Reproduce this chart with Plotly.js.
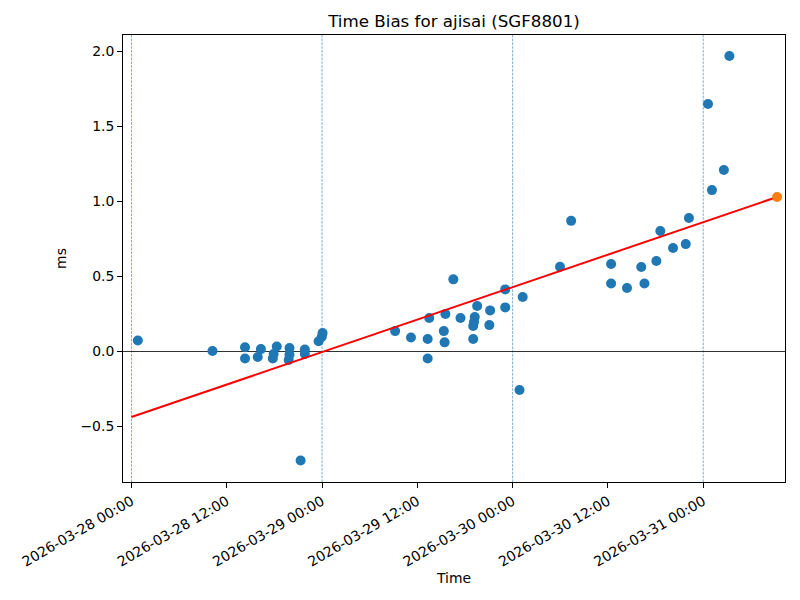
<!DOCTYPE html>
<html>
<head>
<meta charset="utf-8">
<script src="https://cdn.plot.ly/plotly-3.0.1.min.js"></script>
<style>html,body{margin:0;padding:0;background:#fff;}#chart{width:800px;height:600px;}</style>
</head>
<body>
<div id="chart"></div>
<script>
// Observed time-bias samples
const times = [
  "2026-03-28 00:48", "2026-03-28 10:12",
  "2026-03-28 14:18", "2026-03-28 14:18",
  "2026-03-28 16:18", "2026-03-28 15:54",
  "2026-03-28 18:18", "2026-03-28 17:54", "2026-03-28 17:48",
  "2026-03-28 19:54", "2026-03-28 19:54", "2026-03-28 19:48",
  "2026-03-28 21:18",
  "2026-03-28 21:50", "2026-03-28 21:50",
  "2026-03-28 23:34", "2026-03-28 23:58", "2026-03-29 00:04",
  "2026-03-29 09:12", "2026-03-29 11:12",
  "2026-03-29 13:18", "2026-03-29 13:18", "2026-03-29 13:30",
  "2026-03-29 15:20", "2026-03-29 15:26", "2026-03-29 15:32",
  "2026-03-29 16:32", "2026-03-29 17:26",
  "2026-03-29 19:14", "2026-03-29 19:08", "2026-03-29 19:02", "2026-03-29 19:02",
  "2026-03-29 19:32",
  "2026-03-29 21:04", "2026-03-29 21:10",
  "2026-03-29 23:04", "2026-03-29 23:04",
  "2026-03-30 00:52", "2026-03-30 01:16",
  "2026-03-30 05:58", "2026-03-30 07:22",
  "2026-03-30 12:24", "2026-03-30 12:24",
  "2026-03-30 14:24", "2026-03-30 16:12", "2026-03-30 16:36",
  "2026-03-30 18:06", "2026-03-30 18:36",
  "2026-03-30 20:12", "2026-03-30 21:48", "2026-03-30 22:12",
  "2026-03-31 00:36", "2026-03-31 01:06", "2026-03-31 02:36", "2026-03-31 03:18"
];
const biasMs = [
  0.07, 0.0,
  0.025, -0.05,
  0.013, -0.04,
  0.03, -0.02, -0.05,
  0.02, -0.025, -0.06,
  -0.73,
  0.01, -0.02,
  0.065, 0.095, 0.12,
  0.133, 0.09,
  0.08, -0.05, 0.22,
  0.133, 0.058, 0.247,
  0.478, 0.22,
  0.227, 0.193, 0.167, 0.08,
  0.30,
  0.173, 0.271,
  0.291, 0.411,
  -0.26, 0.36,
  0.562, 0.868,
  0.58, 0.45,
  0.42, 0.56, 0.45,
  0.60, 0.80,
  0.687, 0.713, 0.887,
  1.647, 1.073, 1.207, 1.967
];
// Linear fit (endpoints) and predicted point
const fitTimes = ["2026-03-28 00:00", "2026-03-31 09:18"];
const fitValues = [-0.44, 1.027];
const predTime = ["2026-03-31 09:18"];
const predValue = [1.027];
// Day boundaries (dashed guides)
const dayLines = ["2026-03-28 00:00", "2026-03-29 00:00", "2026-03-30 00:00", "2026-03-31 00:00"];
const yTicks = [-0.5, 0.0, 0.5, 1.0, 1.5, 2.0];
const xRange = ["2026-03-27 22:56", "2026-03-31 10:18"];
const yRange = [-0.873, 2.107];

const font = "DejaVu Sans";
const traces = [
  {x: times, y: biasMs, type: "scatter", mode: "markers",
   marker: {color: "#1f77b4", size: 10}, hoverinfo: "skip"},
  {x: fitTimes, y: fitValues, type: "scatter", mode: "lines",
   line: {color: "red", width: 2}, hoverinfo: "skip"},
  {x: predTime, y: predValue, type: "scatter", mode: "markers",
   marker: {color: "#ff7f0e", size: 10}, hoverinfo: "skip"}
];
const shapes = dayLines.map(d => ({
  type: "line", xref: "x", yref: "paper", x0: d, x1: d, y0: 0, y1: 1,
  line: {color: "rgba(31,119,180,0.85)", width: 0.7, dash: "2.6px,1.2px"}, layer: "below"
}));
const layout = {
  width: 800, height: 600,
  margin: {l: 123, r: 15, t: 35, b: 118, pad: 0},
  paper_bgcolor: "#fff", plot_bgcolor: "#fff",
  showlegend: false,
  font: {family: font, size: 13.9, color: "#000"},
  title: {text: "Time Bias for ajisai (SGF8801)", font: {family: font, size: 16.7, color: "#000"},
          x: 0.5, xref: "paper", y: 1 - 21/600, yref: "container", yanchor: "middle"},
  xaxis: {
    type: "date", range: xRange, tick0: "2026-03-28 00:00", dtick: 43200000,
    tickformat: "%Y-%m-%d %H:%M", tickangle: -30,
    showgrid: false, zeroline: false,
    showline: true, mirror: true, linecolor: "#000", linewidth: 1,
    ticks: "outside", ticklen: 5, tickwidth: 1, tickcolor: "#000",
    tickfont: {family: font, size: 14, color: "#000"},
    title: {text: "Time", font: {family: font, size: 13.9, color: "#000"}, standoff: 4},
    automargin: false
  },
  yaxis: {
    range: yRange, tickvals: yTicks, tickformat: ".1f",
    showgrid: false, zeroline: true, zerolinecolor: "#000", zerolinewidth: 0.8,
    showline: true, mirror: true, linecolor: "#000", linewidth: 1,
    ticks: "outside", ticklen: 5, tickwidth: 1, tickcolor: "#000",
    tickfont: {family: font, size: 13.9, color: "#000"},
    title: {text: "ms", font: {family: font, size: 13.9, color: "#000"}, standoff: 10},
    automargin: false
  },
  shapes: shapes
};
Plotly.newPlot("chart", traces, layout, {displayModeBar: false, staticPlot: true});
</script>
</body>
</html>
